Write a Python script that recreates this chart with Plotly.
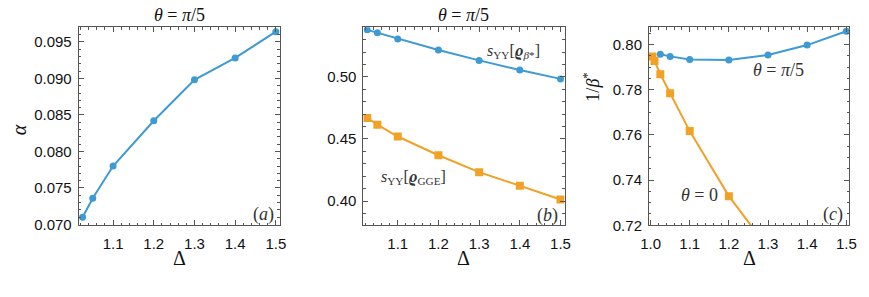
import plotly.graph_objects as go

# ---- data ----
delta_a = [1.025, 1.05, 1.1, 1.2, 1.3, 1.4, 1.5]
alpha_a = [0.0710, 0.0736, 0.0780, 0.0842, 0.0898, 0.0928, 0.0964]

delta_b = [1.025, 1.05, 1.1, 1.2, 1.3, 1.4, 1.5]
s_beta = [0.5379, 0.5356, 0.5306, 0.5217, 0.5133, 0.5055, 0.4984]
s_gge = [0.4670, 0.4615, 0.4520, 0.4369, 0.4233, 0.4123, 0.4013]

delta_c_pi5 = [1.025, 1.05, 1.1, 1.2, 1.3, 1.4, 1.5]
invbeta_pi5 = [0.7957, 0.7948, 0.7934, 0.7932, 0.7954, 0.7998, 0.8059]
delta_c_0 = [1.005, 1.01, 1.025, 1.05, 1.1, 1.2, 1.3, 1.4, 1.5]
invbeta_0 = [0.7948, 0.7927, 0.7869, 0.7785, 0.7617, 0.7329, 0.7086, 0.686, 0.664]

BLUE = "#3d9ad3"
ORANGE = "#f2a127"
W, H = 869, 297

fig = go.Figure()

def line(x, y, color, symbol, size, xa, ya):
    fig.add_trace(go.Scatter(
        x=x, y=y, mode="lines+markers", xaxis=xa, yaxis=ya,
        line=dict(color=color, width=2),
        marker=dict(color=color, symbol=symbol, size=size, line=dict(width=0)),
        showlegend=False, cliponaxis=True))

line(delta_a, alpha_a, BLUE, "circle", 7, "x", "y")
line(delta_b, s_beta, BLUE, "circle", 7, "x2", "y2")
line(delta_b, s_gge, ORANGE, "square", 8, "x2", "y2")
line(delta_c_0, invbeta_0, ORANGE, "square", 8, "x3", "y3")
line(delta_c_pi5, invbeta_pi5, BLUE, "circle", 7, "x3", "y3")

FRAME = "#555555"
SANS = "Liberation Sans"
SERIF = "Liberation Serif"
tickfont = dict(family=SANS, size=15, color="#111")

def xax(l, r, rng, dtick, minor, fmt, anchor):
    return dict(domain=[l / W, r / W], range=rng, anchor=anchor,
                showline=True, linecolor=FRAME, linewidth=1, mirror="allticks",
                ticks="inside", ticklen=5, tickwidth=1, tickcolor=FRAME,
                dtick=dtick, tick0=1.0, tickformat=fmt, showgrid=False, zeroline=False,
                minor=dict(ticks="inside", ticklen=2.5, tickwidth=1, tickcolor=FRAME, dtick=minor, showgrid=False),
                tickfont=tickfont, ticklabelstandoff=5)

def yax(rng, dtick, minor, fmt, anchor, tick0):
    return dict(domain=[1 - 231.5 / H, 1 - 28 / H], range=rng, anchor=anchor,
                showline=True, linecolor=FRAME, linewidth=1, mirror="allticks",
                ticks="inside", ticklen=5, tickwidth=1, tickcolor=FRAME,
                dtick=dtick, tick0=tick0, tickformat=fmt, showgrid=False, zeroline=False,
                minor=dict(ticks="inside", ticklen=2.5, tickwidth=1, tickcolor=FRAME, dtick=minor, showgrid=False),
                tickfont=tickfont, ticklabelstandoff=3)

fig.update_layout(
    width=W, height=H, margin=dict(l=0, r=0, t=0, b=0),
    paper_bgcolor="white", plot_bgcolor="white",
    font=dict(family=SANS, size=14, color="#111"),
    xaxis=xax(71, 276, [1.0155, 1.510], 0.1, 0.02, ".1f", "y"),
    yaxis=yax([0.0699, 0.0970], 0.005, 0.001, ".3f", "x", 0.07),
    xaxis2=xax(361, 566, [1.0155, 1.510], 0.1, 0.02, ".1f", "y2"),
    yaxis2=yax([0.3805, 0.540], 0.05, 0.01, ".2f", "x2", 0.4),
    xaxis3=xax(652, 856, [0.996, 1.5075], 0.1, 0.02, ".1f", "y3"),
    yaxis3=yax([0.72, 0.8077], 0.02, 0.005, ".2f", "x3", 0.72),
)

def ann(x, y, text, size=16, angle=0, color="#111"):
    fig.add_annotation(x=x / W, y=1 - y / H, xref="paper", yref="paper",
                       text=text, showarrow=False, textangle=angle,
                       font=dict(family=SERIF, size=size, color=color),
                       xanchor="center", yanchor="middle")

# titles
ann(173.5, 15.5, "<i>θ</i> = <i>π</i>/5", 18)
ann(463.5, 15.5, "<i>θ</i> = <i>π</i>/5", 18)
# axis labels
for cx in (173.5, 463.5, 754):
    ann(cx, 265, "Δ", 20)
ann(11, 133, "<i>α</i>", 20, -90)
ann(594, 90, "1/<i>β</i><sup>*</sup>", 18, -90)
# panel labels
ann(259, 220, "(<i>a</i>)", 18, color="#333")
ann(549, 221, "(<i>b</i>)", 18, color="#333")
ann(839, 220, "(<i>c</i>)", 18, color="#333")
# curve labels
ann(514, 53, "<i>s</i><sub>YY</sub>[<b><i>ϱ</i></b><sub><i>β</i>*</sub>]", 16, color="#333")
ann(412, 182, "<i>s</i><sub>YY</sub>[<b><i>ϱ</i></b><sub>GGE</sub>]", 16, color="#333")
ann(784, 72, "<i>θ</i> = <i>π</i>/5", 18, color="#333")
ann(703, 200, "<i>θ</i> = 0", 18, color="#333")

fig.write_html("out.html")
